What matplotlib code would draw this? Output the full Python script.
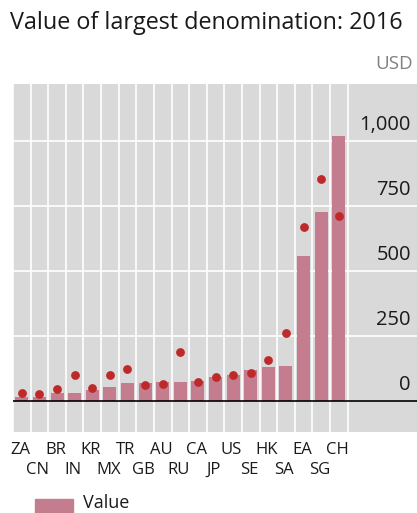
import matplotlib.pyplot as plt
from matplotlib.patches import Rectangle

countries = ["ZA", "CN", "BR", "IN", "KR", "MX", "TR", "GB", "AU", "RU",
             "CA", "JP", "US", "SE", "HK", "SA", "EA", "SG", "CH"]
# largest note in USD (bars) and the red markers
value_usd = [16, 15, 30, 32, 42, 55, 68, 68, 74, 74,
             78, 94, 100, 119, 130, 135, 557, 726, 1019]
marker_usd = [32, 27, 47, 101, 49, 101, 124, 63, 64, 187,
              74, 92, 100, 108, 156, 260, 668, 854, 711]
yticks = [0, 250, 500, 750, 1000]

plt.rcParams['font.family'] = ['Open Sans', 'DejaVu Sans']

W, H = 417, 513
fig = plt.figure(figsize=(W / 100, H / 100), dpi=100)
fig.patch.set_facecolor("white")

ax = fig.add_axes([13 / W, (H - 432) / H, (W - 13) / W, (432 - 84) / H])
ax.set_facecolor("#d9d9d9")
n = len(countries)
ax.set_xlim(-0.5, n - 0.5 + 3.94)
ax.set_ylim(-119, 1219)
for s in ax.spines.values():
    s.set_visible(False)
ax.set_xticks([])
ax.set_yticks([])

# category separators and value gridlines
for i in range(n + 1):
    ax.axvline(i - 0.5, color="white", lw=1.2, zorder=1)
for v in yticks[1:]:
    ax.axhline(v, color="white", lw=1.2, zorder=1)
ax.axhline(0, color="black", lw=1.2, zorder=4)

x = range(n)
ax.bar(x, value_usd, width=0.74, color="#c47d8e", zorder=2)
ax.scatter(x, marker_usd, s=40, color="#be2a2a", zorder=3, linewidths=0)

for v in yticks:
    ax.annotate(f"{v:,}", xy=(0.985, v), xycoords=("axes fraction", "data"),
                xytext=(0, 4), textcoords="offset points",
                ha="right", va="bottom", fontsize=14.5, color="#1a1a1a")

# two-row category labels
for i, c in enumerate(countries):
    ypx = 450 if i % 2 == 0 else 470
    fig.text((13 + 17.6 * (i + 0.5) - 1.5) / W, (H - ypx) / H, c,
             ha="center", va="center", fontsize=12, color="#1a1a1a")

fig.text(10 / W, (H - 29) / H, "Value of largest denomination: 2016",
         ha="left", va="baseline", fontsize=16.8, color="#1a1a1a")
fig.text(413 / W, (H - 69) / H, "USD", ha="right", va="baseline",
         fontsize=13.5, color="#808080")

# legend at the foot of the figure
fig.patches.append(Rectangle((35 / W, -6 / H), 38 / W, 20 / H,
                             transform=fig.transFigure, color="#c47d8e"))
fig.text(83 / W, 1 / H, "Value", ha="left", va="bottom",
         fontsize=13, color="#1a1a1a")

fig.savefig("out.png", dpi=100)
